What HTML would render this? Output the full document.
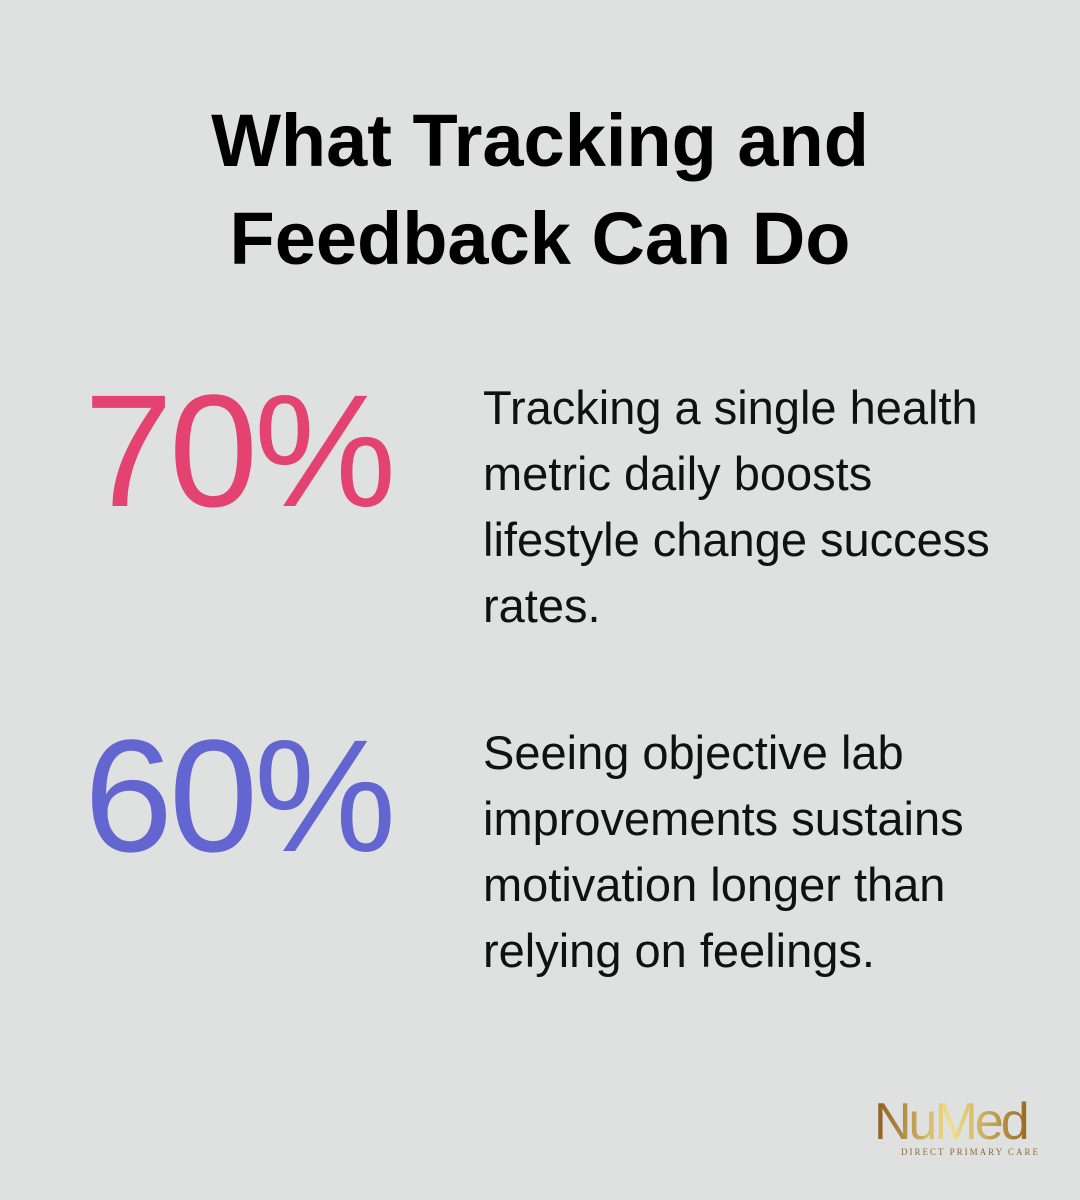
<!DOCTYPE html>
<html><head><meta charset="utf-8"><style>
body{margin:0;width:1080px;height:1200px;background:#dfe1e0;position:relative;overflow:hidden;font-family:"Liberation Sans",sans-serif}
.t{position:absolute;left:0;width:1080px;top:92px;text-align:center;font-weight:bold;font-size:74px;line-height:98px;color:#000}
.n{position:absolute;left:84px;font-size:160px;line-height:160px;letter-spacing:-4px}
.p{position:absolute;left:483px;font-size:47px;line-height:66px;color:#111;white-space:nowrap}
.logo{position:absolute;left:874px;top:1094px;font-family:"Liberation Sans",sans-serif;font-size:52px;letter-spacing:-3px;color:#b8892e;background:linear-gradient(90deg,#8a5a1e,#f3e08a 50%,#9a6a22);-webkit-background-clip:text;background-clip:text;-webkit-text-fill-color:transparent;line-height:56px}
.sub{position:absolute;left:901px;top:1147px;font-family:"Liberation Serif",serif;font-size:9px;letter-spacing:2px;color:#8a6a3a}
</style></head><body>
<div class="t">What Tracking and<br>Feedback Can Do</div>
<div class="n" style="top:371px;color:#e44372">70%</div>
<div class="p" style="top:375px">Tracking a single health<br>metric daily boosts<br>lifestyle change success<br>rates.</div>
<div class="n" style="top:716px;color:#6366d0">60%</div>
<div class="p" style="top:720px">Seeing objective lab<br>improvements sustains<br>motivation longer than<br>relying on feelings.</div>
<div class="logo">NuMed</div>
<div class="sub">DIRECT PRIMARY CARE</div>
</body></html>
